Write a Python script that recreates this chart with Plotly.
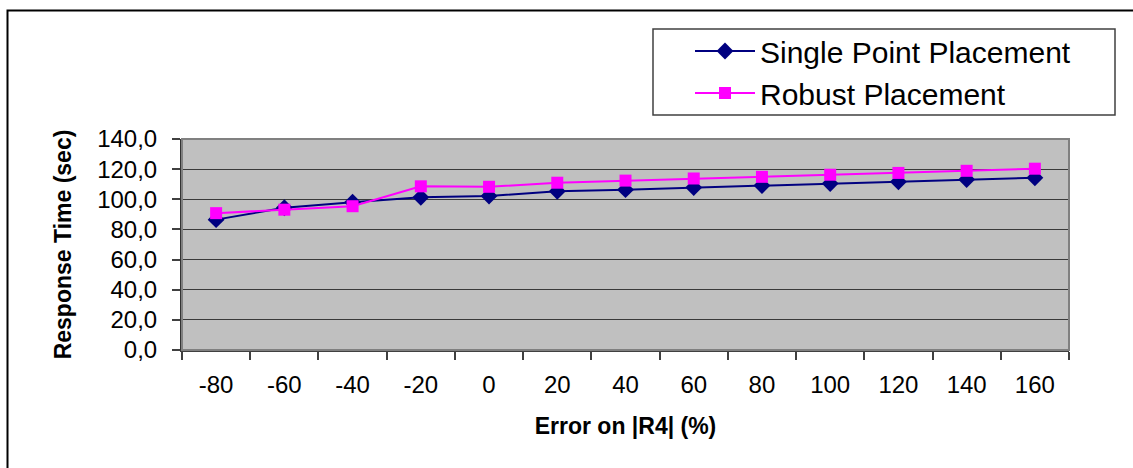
import plotly.graph_objects as go

# Error on |R4| in percent (category labels)
error_pct = ["-80", "-60", "-40", "-20", "0", "20", "40", "60", "80",
             "100", "120", "140", "160"]

# Response time in seconds for each placement strategy
single_point = [86.5, 94.4, 98.0, 101.3, 102.2, 105.3, 106.4, 107.8, 109.1,
                110.4, 111.6, 113.1, 114.3]
robust = [90.8, 93.1, 95.4, 108.6, 108.3, 111.0, 112.4, 113.8, 114.9,
          116.3, 117.5, 118.9, 120.3]

y_ticks = [0, 20, 40, 60, 80, 100, 120, 140]

FONT = "Liberation Sans, Arial, sans-serif"

# figure geometry (pixels)
W, H = 1133, 468
L, R, T, B = 182, 64, 139, 118
PW, PH = W - L - R, H - T - B


def px_x(p):
    return (p - L) / PW


def px_y(p):
    return (H - B - p) / PH


fig = go.Figure()

fig.add_trace(go.Scatter(
    x=error_pct, y=single_point, name="Single Point Placement",
    mode="lines+markers",
    line=dict(color="#000080", width=2),
    marker=dict(symbol="diamond", size=13, color="#000080"),
))
fig.add_trace(go.Scatter(
    x=error_pct, y=robust, name="Robust Placement",
    mode="lines+markers",
    line=dict(color="#FF00FF", width=2),
    marker=dict(symbol="square", size=12, color="#FF00FF"),
))

shapes = [
    # plot area frame (top / right in grey)
    dict(type="rect", xref="paper", yref="paper", x0=0, x1=1, y0=0, y1=1,
         line=dict(color="#808080", width=2), layer="above"),
    # outer chart frame (left and top edges)
    dict(type="path", xref="paper", yref="paper",
         path=f"M {px_x(7.5)},{px_y(480)} L {px_x(7.5)},{px_y(10.5)} L {px_x(1150)},{px_y(10.5)}",
         line=dict(color="#000000", width=2)),
    # legend frame
    dict(type="rect", xref="paper", yref="paper",
         x0=px_x(653), x1=px_x(1115), y0=px_y(115), y1=px_y(29),
         line=dict(color="#404040", width=1.5), fillcolor="rgba(0,0,0,0)"),
]

fig.update_layout(
    width=W, height=H,
    margin=dict(l=L, r=R, t=T, b=B, autoexpand=False),
    paper_bgcolor="white",
    plot_bgcolor="#C0C0C0",
    separators=",.",
    font=dict(family=FONT, color="black", size=24),
    showlegend=True,
    legend=dict(
        x=px_x(690), y=px_y(25), xanchor="left", yanchor="top",
        bgcolor="rgba(0,0,0,0)", borderwidth=0,
        itemwidth=60,
        font=dict(family=FONT, size=30, color="black"),
        tracegroupgap=0,
    ),
    shapes=shapes,
    xaxis=dict(
        type="category",
        range=[-0.5, len(error_pct) - 0.5],
        tickson="boundaries",
        ticks="outside", ticklen=8, tickwidth=1.5, tickcolor="#404040",
        showgrid=False, zeroline=False,
        showline=True, linecolor="#404040", linewidth=2,
        tickfont=dict(family=FONT, size=24, color="black"),
        ticklabelstandoff=12,
        title=dict(text="<b>Error on |R4| (%)</b>", standoff=21,
                   font=dict(family=FONT, size=23, color="black")),
        fixedrange=True,
    ),
    yaxis=dict(
        range=[0, 140],
        tickvals=y_ticks,
        tickformat=".1f",
        ticks="outside", ticklen=8, tickwidth=1.5, tickcolor="#404040",
        showgrid=True, gridcolor="#3a3a3a", gridwidth=1,
        zeroline=False,
        showline=True, linecolor="#333333", linewidth=2,
        tickfont=dict(family=FONT, size=24, color="black"),
        ticklabelstandoff=10,
        title=dict(text="<b>Response Time (sec)</b>", standoff=19,
                   font=dict(family=FONT, size=23, color="black")),
        fixedrange=True,
    ),
)

fig.write_html("out.html")
